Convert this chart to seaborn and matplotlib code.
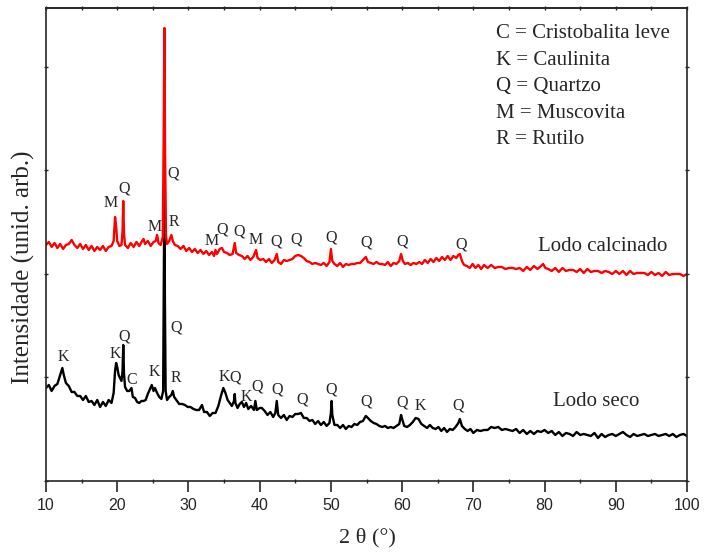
import numpy as np
import pandas as pd
import seaborn as sns
import matplotlib.pyplot as plt
from matplotlib.ticker import MultipleLocator

# Lodo seco (black), intensity in arbitrary units
seco_2theta = [10.0, 10.4, 10.8, 11.2, 11.6, 11.9, 12.1, 12.3, 12.5, 12.8, 13.2, 13.6, 14.0, 14.4, 14.8,
               15.2, 15.6, 16.0, 16.4, 16.8, 17.2, 17.6, 18.0, 18.4, 18.8, 19.2, 19.5, 19.7, 19.85, 20.0,
               20.2, 20.4, 20.6, 20.75, 20.85, 20.95, 21.1, 21.4, 21.7, 22.0, 22.2, 22.5, 22.8, 23.1, 23.4,
               23.7, 24.0, 24.3, 24.6, 24.85, 25.1, 25.3, 25.6, 25.9, 26.2, 26.45, 26.55, 26.62, 26.7, 26.8,
               27.0, 27.3, 27.6, 27.8, 28.0, 28.3, 28.7, 29.1, 29.5, 29.9, 30.3, 30.7, 31.1, 31.5, 31.9,
               32.2, 32.6, 33.0, 33.4, 33.8, 34.2, 34.6, 34.9, 35.2, 35.5, 35.8, 36.1, 36.4, 36.5, 36.6,
               36.9, 37.2, 37.5, 37.8, 38.1, 38.4, 38.8, 39.2, 39.4, 39.6, 40.0, 40.3, 40.7, 41.1, 41.5,
               41.9, 42.2, 42.4, 42.6, 43.0, 43.4, 43.8, 44.2, 44.6, 45.0, 45.4, 45.8, 46.2, 46.6, 47.0,
               47.4, 47.8, 48.2, 48.6, 49.0, 49.4, 49.8, 50.0, 50.1, 50.2, 50.5, 50.9, 51.3, 51.7, 52.1,
               52.5, 52.9, 53.3, 53.7, 54.1, 54.5, 54.9, 55.2, 55.6, 56.0, 56.4, 56.8, 57.2, 57.6, 58.0,
               58.4, 58.8, 59.2, 59.6, 59.85, 60.0, 60.3, 60.7, 61.1, 61.5, 61.9, 62.3, 62.7, 63.1, 63.5,
               63.9, 64.3, 64.7, 65.1, 65.5, 65.9, 66.3, 66.7, 67.1, 67.5, 67.9, 68.1, 68.4, 68.8, 69.2,
               69.6, 70.0, 70.5, 71.0, 71.5, 72.0, 72.5, 73.0, 73.5, 74.0, 74.5, 75.0, 75.5, 76.0, 76.5,
               77.0, 77.5, 78.0, 78.5, 79.0, 79.5, 80.0, 80.5, 81.0, 81.5, 82.0, 82.5, 83.0, 83.5, 84.0,
               84.5, 85.0, 85.5, 86.0, 86.5, 87.0, 87.5, 88.0, 88.5, 89.0, 89.5, 90.0, 90.5, 91.0, 91.5,
               92.0, 92.5, 93.0, 93.5, 94.0, 94.5, 95.0, 95.5, 96.0, 96.5, 97.0, 97.5, 98.0, 98.5, 99.0,
               99.5, 100.0]
seco_int = [93, 96, 90, 95, 97, 104, 109, 113, 106, 98, 95, 89, 89, 85, 85,
            81, 85, 79, 80, 76, 81, 74, 79, 75, 81, 78, 88, 110, 118, 114,
            106, 103, 100, 110, 136, 108, 94, 90, 90, 93, 84, 83, 79, 78, 80,
            80, 81, 87, 92, 96, 90, 93, 88, 84, 82, 90, 200, 294, 180, 90,
            81, 84, 86, 90, 84, 81, 77, 77, 76, 74, 74, 72, 71, 71, 76,
            69, 69, 65, 68, 68, 75, 86, 93, 88, 81, 78, 75, 80, 87, 78,
            73, 77, 79, 74, 78, 72, 75, 71, 80, 71, 73, 73, 70, 66, 69,
            64, 68, 80, 66, 63, 66, 61, 65, 64, 67, 67, 68, 63, 63, 60,
            61, 57, 60, 56, 59, 55, 58, 68, 80, 66, 56, 56, 53, 56, 52,
            55, 54, 57, 56, 59, 60, 65, 63, 60, 58, 57, 55, 54, 55, 53,
            54, 53, 55, 57, 66, 62, 55, 54, 56, 59, 63, 62, 57, 55, 53,
            56, 53, 52, 54, 50, 53, 49, 52, 51, 54, 58, 62, 55, 52, 50,
            52, 48, 51, 50, 51, 51, 54, 53, 54, 51, 52, 51, 50, 52, 48,
            51, 47, 50, 47, 50, 49, 51, 48, 50, 46, 49, 45, 48, 47, 45,
            49, 46, 47, 46, 45, 48, 43, 47, 44, 46, 47, 45, 47, 49, 46,
            44, 47, 45, 46, 47, 45, 46, 47, 45, 46, 47, 45, 47, 44, 46,
            47, 45]

# Lodo calcinado (red)
calc_2theta = [10.0, 10.4, 10.8, 11.2, 11.6, 12.0, 12.4, 12.8, 13.2, 13.6, 14.0, 14.4, 14.8, 15.2, 15.6,
               16.0, 16.4, 16.8, 17.2, 17.6, 18.0, 18.4, 18.8, 19.2, 19.5, 19.7, 19.85, 20.0, 20.3, 20.6,
               20.75, 20.85, 20.95, 21.1, 21.5, 21.9, 22.3, 22.7, 23.1, 23.5, 23.7, 23.9, 24.3, 24.7, 25.1,
               25.4, 25.6, 25.8, 26.1, 26.4, 26.52, 26.62, 26.72, 26.85, 27.0, 27.3, 27.6, 27.8, 28.1, 28.5,
               28.9, 29.3, 29.7, 30.1, 30.5, 30.9, 31.3, 31.7, 32.1, 32.5, 32.9, 33.3, 33.6, 33.8, 34.0,
               34.4, 34.7, 35.0, 35.4, 35.8, 36.2, 36.5, 36.7, 37.1, 37.5, 37.9, 38.3, 38.7, 39.1, 39.5,
               39.7, 40.1, 40.5, 40.9, 41.3, 41.7, 42.1, 42.4, 42.6, 43.0, 43.4, 43.8, 44.2, 44.6, 45.0,
               45.4, 45.8, 46.2, 46.6, 47.0, 47.4, 47.8, 48.2, 48.6, 49.0, 49.4, 49.8, 50.0, 50.2, 50.5,
               50.9, 51.3, 51.7, 52.1, 52.5, 52.9, 53.3, 53.7, 54.1, 54.5, 54.9, 55.2, 55.6, 56.0, 56.4,
               56.8, 57.2, 57.6, 58.0, 58.4, 58.8, 59.2, 59.6, 59.85, 60.1, 60.4, 60.8, 61.2, 61.6, 62.0,
               62.4, 62.8, 63.2, 63.6, 64.0, 64.4, 64.8, 65.2, 65.6, 66.0, 66.4, 66.8, 67.2, 67.6, 67.9,
               68.1, 68.4, 68.7, 69.1, 69.5, 69.9, 70.3, 70.7, 71.1, 71.5, 72.0, 72.5, 73.0, 73.5, 74.0,
               74.5, 75.0, 75.5, 76.0, 76.5, 77.0, 77.5, 78.0, 78.5, 79.0, 79.5, 79.8, 80.1, 80.5, 81.0,
               81.5, 82.0, 82.5, 83.0, 83.5, 84.0, 84.5, 85.0, 85.5, 86.0, 86.5, 87.0, 87.5, 88.0, 88.5,
               89.0, 89.5, 90.0, 90.5, 91.0, 91.5, 92.0, 92.5, 93.0, 93.5, 94.0, 94.5, 95.0, 95.5, 96.0,
               96.5, 97.0, 97.5, 98.0, 98.5, 99.0, 99.5, 100.0]
calc_int = [236, 239, 234, 238, 233, 237, 232, 236, 237, 241, 236, 233, 237, 232, 236,
            231, 235, 230, 234, 231, 235, 230, 234, 235, 240, 264, 255, 240, 235, 236,
            250, 280, 248, 236, 233, 238, 234, 239, 235, 240, 242, 237, 240, 235, 239,
            240, 246, 238, 236, 244, 340, 453, 330, 245, 237, 240, 246, 240, 236, 235,
            232, 235, 230, 233, 229, 232, 228, 231, 227, 230, 226, 229, 225, 231, 227,
            232, 233, 229, 228, 226, 227, 238, 228, 226, 225, 222, 225, 221, 224, 231,
            223, 221, 222, 219, 222, 218, 221, 227, 219, 217, 221, 220, 221, 222, 225,
            226, 225, 223, 220, 219, 217, 218, 217, 216, 218, 215, 219, 232, 220, 217,
            215, 218, 214, 217, 216, 217, 217, 218, 218, 221, 224, 219, 218, 217, 219,
            217, 217, 216, 219, 215, 218, 217, 220, 227, 220, 217, 218, 216, 218, 217,
            219, 217, 221, 218, 222, 219, 223, 220, 224, 221, 225, 221, 225, 223, 226,
            227, 220, 216, 215, 213, 217, 213, 216, 212, 216, 213, 216, 213, 214, 214,
            212, 213, 213, 212, 213, 210, 214, 211, 215, 212, 215, 217, 213, 212, 210,
            213, 209, 213, 210, 211, 211, 209, 212, 208, 212, 209, 210, 210, 208, 210,
            209, 207, 210, 207, 210, 206, 210, 207, 208, 208, 208, 206, 209, 206, 208,
            205, 209, 206, 207, 207, 207, 205, 207]

# phase labels
seco_labels = ["K", "K", "Q", "C", "K", "Q", "R", "K", "Q", "K", "Q", "Q", "Q", "Q", "Q", "Q", "K", "Q"]
seco_label_x = [12.5, 19.7, 21.0, 22.1, 25.2, 28.3, 28.2, 35.0, 36.5, 38.2, 39.6, 42.5, 45.9, 50.1,
                54.9, 60.0, 62.5, 67.8]
seco_label_y = [124, 127, 144, 101, 109, 153, 103, 104, 103, 84, 94, 91, 81, 91, 79, 78, 75, 75]

calc_labels = ["M", "Q", "Q", "M", "R", "M", "Q", "Q", "M", "Q", "Q", "Q", "Q", "Q", "Q"]
calc_label_x = [19.1, 21.0, 27.9, 25.2, 27.9, 33.2, 34.8, 37.1, 39.5, 42.3, 45.1, 50.0, 54.9, 60.0, 68.3]
calc_label_y = [278, 292, 307, 254, 259, 240, 251, 249, 241, 239, 241, 243, 238, 239, 236]

legend_lines = ["C = Cristobalita leve", "K = Caulinita", "Q = Quartzo", "M = Muscovita", "R = Rutilo"]

sns.set_style("ticks")
plt.rcParams['font.family'] = ['Liberation Serif', 'DejaVu Serif']

fig = plt.figure(figsize=(7.04, 5.54), dpi=100)
ax = fig.add_axes([0.0653, 0.1318, 0.9106, 0.8538])

df_seco = pd.DataFrame({'x': seco_2theta, 'y': seco_int})
df_calc = pd.DataFrame({'x': calc_2theta, 'y': calc_int})
sns.lineplot(data=df_seco, x='x', y='y', color='black', lw=1.7, estimator=None, ax=ax)
sns.lineplot(data=df_calc, x='x', y='y', color='#ff0000', lw=1.7, estimator=None, ax=ax)

for t, x, y in zip(seco_labels, seco_label_x, seco_label_y):
    ax.text(x, y, t, fontsize=11.5, ha='center', va='center')
for t, x, y in zip(calc_labels, calc_label_x, calc_label_y):
    ax.text(x, y, t, fontsize=11.5, ha='center', va='center')

ax.text(87.2, 79, "Lodo seco", fontsize=15, ha='center', va='center')
ax.text(88.1, 234, "Lodo calcinado", fontsize=15, ha='center', va='center')

for i, line in enumerate(legend_lines):
    ax.text(73.2, 447 - i * 26.5, line, fontsize=15, ha='left', va='center')

ax.set_xlim(10, 100)
ax.set_ylim(0, 473)
ax.set_xlabel("")
ax.set_ylabel("")
ax.xaxis.set_major_locator(MultipleLocator(10))
ax.xaxis.set_minor_locator(MultipleLocator(5))
ax.yaxis.set_major_locator(MultipleLocator(103.5))
ax.set_yticklabels([])
ax.tick_params(axis='x', which='major', direction='out', length=8, width=1.2, pad=4)
ax.tick_params(axis='x', which='minor', direction='inout', length=3, width=1)
ax.tick_params(axis='y', which='major', direction='inout', length=3, width=1,
               left=True, right=True)
for lab in ax.get_xticklabels():
    lab.set_fontfamily('Liberation Sans')
    lab.set_fontsize(11.5)
for sp in ax.spines.values():
    sp.set_linewidth(1.2)
    sp.set_visible(True)

top = ax.secondary_xaxis('top')
top.xaxis.set_major_locator(MultipleLocator(5))
top.tick_params(direction='inout', length=3, width=1, labeltop=False)
top.spines['top'].set_linewidth(1.2)

fig.text(367 / 704, 1 - 538 / 554, "2 θ (°)", fontsize=16, ha='center', va='center')
fig.text(23 / 704, 1 - 267 / 554, "Intensidade (unid. arb.)", fontsize=18,
         ha='center', va='center', rotation=90)

fig.savefig("out.png", dpi=100)
